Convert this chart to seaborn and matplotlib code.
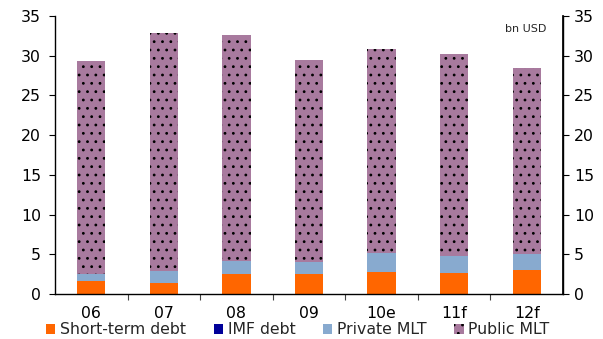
import matplotlib
matplotlib.use("Agg")
import matplotlib.pyplot as plt
from matplotlib.patches import Patch
import numpy as np
import pandas as pd
import seaborn as sns

# External debt service by component, bn USD
years = ["06", "07", "08", "09", "10e", "11f", "12f"]
short_term = [1.6, 1.4, 2.55, 2.5, 2.8, 2.7, 3.0]
imf_debt = [0.0, 0.0, 0.0, 0.0, 0.0, 0.0, 0.0]
private_mlt = [0.9, 1.5, 1.6, 1.5, 2.3, 2.05, 2.0]
public_mlt = [26.8, 30.0, 28.45, 25.4, 25.7, 25.45, 23.4]

series_names = ["Short-term debt", "IMF debt", "Private MLT", "Public MLT"]
colors = ["#FF6600", "#000099", "#88AACF", "#A87A9E"]

sns.set_theme(style="white")
plt.rcParams["font.family"] = ["DejaVu Sans"]
plt.rcParams["hatch.linewidth"] = 0.8

df = pd.DataFrame({
    "year": years,
    "short": short_term,
    "imf": imf_debt,
    "private": private_mlt,
    "public": public_mlt,
})
# cumulative heights for stacking (draw tallest first, overlay smaller)
df["c_short"] = df["short"]
df["c_imf"] = df["c_short"] + df["imf"]
df["c_private"] = df["c_imf"] + df["private"]
df["c_public"] = df["c_private"] + df["public"]

fig = plt.figure(figsize=(6.03, 3.39), dpi=100)
ax = fig.add_axes([55 / 603, 1 - 294 / 339, (563 - 55) / 603, (294 - 16) / 339])

bar_w = 0.39
layers = [("c_public", colors[3], ".."), ("c_private", colors[2], None),
          ("c_imf", colors[1], None), ("c_short", colors[0], None)]
for col, c, h in layers:
    if h:
        sns.barplot(data=df, x="year", y=col, order=years, color=c, width=bar_w,
                    saturation=1, edgecolor="black", linewidth=0, hatch=h, ax=ax)
    else:
        sns.barplot(data=df, x="year", y=col, order=years, color=c, width=bar_w,
                    saturation=1, linewidth=0, ax=ax)

ax.set_xlim(-0.5, len(years) - 0.5)
ax.set_ylim(0, 35)
ax.set_yticks(np.arange(0, 36, 5))
ax.set_xlabel("")
ax.set_ylabel("")

ax.spines["top"].set_visible(False)
for s in ["left", "right", "bottom"]:
    ax.spines[s].set_color("black")
    ax.spines[s].set_linewidth(1.0)

fs = 11.3
ax.tick_params(axis="x", which="major", length=0, pad=9, labelsize=fs, colors="black")
ax.set_xticks(np.arange(0.5, len(years) - 0.5), minor=True)
ax.tick_params(axis="x", which="minor", length=4, width=0.8, color="#444444", direction="out", bottom=True)
ax.tick_params(axis="y", which="major", length=4, width=0.8, pad=6, labelsize=fs,
               direction="out", left=True, colors="black")

ax2 = ax.twinx()
ax2.set_ylim(0, 35)
ax2.set_yticks(np.arange(0, 36, 5))
ax2.tick_params(axis="y", length=4, width=0.8, pad=4, labelsize=fs, direction="out",
                right=True, colors="black")
for s in ["top", "left", "bottom"]:
    ax2.spines[s].set_visible(False)
ax2.spines["right"].set_color("black")
ax2.grid(False)
ax.grid(False)

ax.text(0.968, 0.955, "bn USD", transform=ax.transAxes, ha="right", va="center", fontsize=8)

handles = [Patch(facecolor=colors[0], edgecolor="none"),
           Patch(facecolor=colors[1], edgecolor="none"),
           Patch(facecolor=colors[2], edgecolor="none"),
           Patch(facecolor=colors[3], edgecolor="black", linewidth=0, hatch="..")]
fig.legend(handles, series_names, loc="center left", bbox_to_anchor=(46 / 603, 1 - 330 / 339),
           ncol=4, frameon=False, fontsize=fs, borderpad=0, borderaxespad=0,
           handlelength=0.6, handleheight=0.6, handletextpad=0.3, columnspacing=1.75)

fig.savefig("out.png", dpi=100)
